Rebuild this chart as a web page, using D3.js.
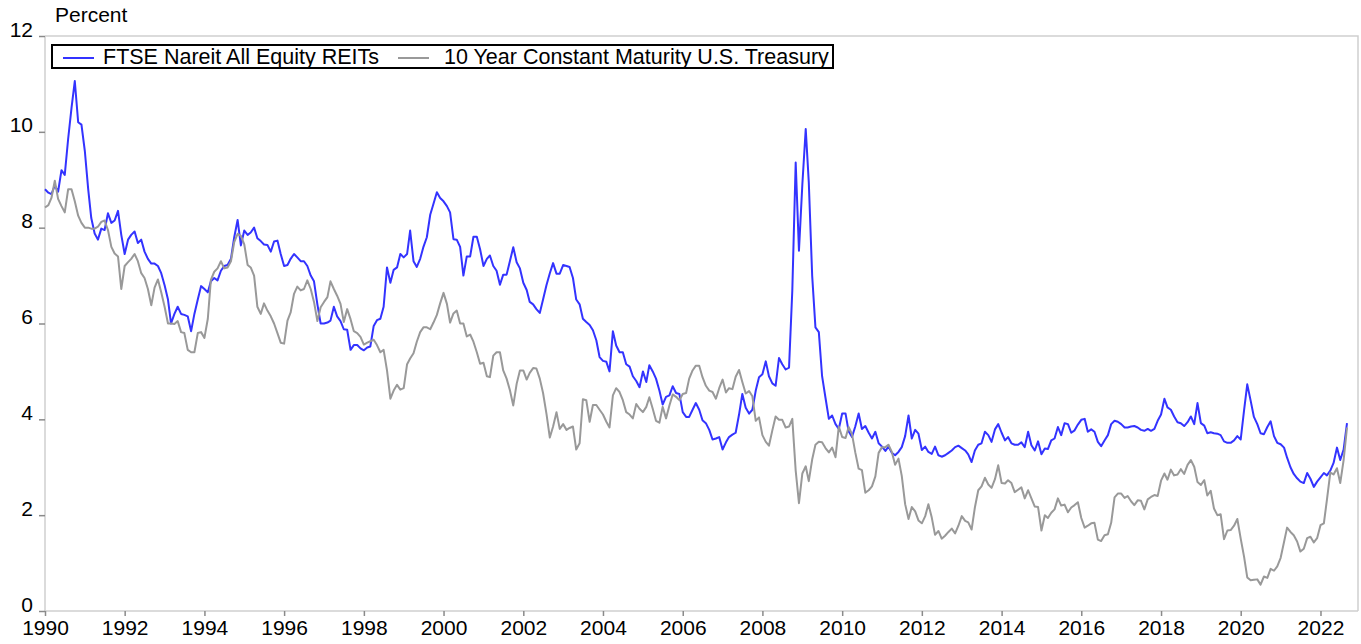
<!DOCTYPE html>
<html>
<head>
<meta charset="utf-8">
<script src="https://cdn.jsdelivr.net/npm/d3@7"></script>
<style>
  body { margin: 0; background: #fff; }
  svg text { font-family: "Liberation Sans", Arial, sans-serif; fill: #000; }
</style>
</head>
<body>
<div id="chart"></div>
<script>
// monthly, Jan 1990 - Sep 2022, percent
var reitYield = [
  8.8, 8.73, 8.7, 8.88, 8.75, 9.2, 9.1, 9.85, 10.5, 11.06, 10.2, 10.15,   // 1990
  9.6, 8.8, 8.2, 7.88, 7.75, 7.98, 7.95, 8.3, 8.1, 8.15, 8.35, 7.85,      // 1991
  7.45, 7.75, 7.85, 7.92, 7.68, 7.75, 7.5, 7.35, 7.25, 7.25, 7.2, 7.05,   // 1992
  6.8, 6.5, 6.0, 6.2, 6.35, 6.2, 6.18, 6.15, 5.84, 6.2, 6.5, 6.78,        // 1993
  6.72, 6.65, 6.88, 6.95, 6.9, 7.1, 7.2, 7.22, 7.35, 7.8, 8.16, 7.63,     // 1994
  7.94, 7.85, 7.9, 8.0, 7.78, 7.72, 7.65, 7.64, 7.5, 7.71, 7.73, 7.45,    // 1995
  7.2, 7.22, 7.35, 7.45, 7.38, 7.3, 7.3, 7.2, 7.0, 6.88, 6.4, 6.0,        // 1996
  6.0, 6.02, 6.06, 6.35, 6.15, 6.05, 5.88, 5.87, 5.45, 5.55, 5.55, 5.48,  // 1997
  5.44, 5.5, 5.52, 5.95, 6.07, 6.1, 6.35, 7.17, 6.85, 7.12, 7.17, 7.45,   // 1998
  7.38, 7.45, 7.94, 7.3, 7.18, 7.35, 7.6, 7.8, 8.27, 8.5, 8.74, 8.62,     // 1999
  8.55, 8.45, 8.32, 7.76, 7.75, 7.6, 7.0, 7.4, 7.4, 7.81, 7.81, 7.55,     // 2000
  7.2, 7.35, 7.42, 7.2, 7.1, 6.81, 7.02, 7.02, 7.31, 7.59, 7.28, 7.15,    // 2001
  6.85, 6.7, 6.45, 6.4, 6.3, 6.22, 6.5, 6.8, 7.05, 7.26, 7.04, 7.04,      // 2002
  7.22, 7.2, 7.18, 6.95, 6.5, 6.4, 6.1, 6.03, 5.97, 5.86, 5.65, 5.3,      // 2003
  5.22, 5.2, 5.0, 5.84, 5.54, 5.4, 5.4, 5.15, 5.1, 4.9, 4.8, 4.67,        // 2004
  5.0, 4.78, 5.13, 5.0, 4.85, 4.6, 4.31, 4.47, 4.5, 4.69, 4.55, 4.53,     // 2005
  4.15, 4.05, 4.05, 4.2, 4.34, 4.2, 3.98, 3.92, 3.78, 3.58, 3.6, 3.63,    // 2006
  3.37, 3.52, 3.63, 3.68, 3.72, 4.1, 4.53, 4.24, 4.12, 4.2, 4.6, 4.88,    // 2007
  4.94, 5.21, 4.9, 4.75, 4.7, 5.28, 5.15, 5.04, 5.08, 6.69, 9.36, 7.52,   // 2008
  8.9, 10.06, 8.95, 7.0, 5.92, 5.82, 4.9, 4.45, 4.01, 4.08, 3.9, 3.8,     // 2009
  4.12, 4.12, 3.75, 3.63, 3.85, 4.12, 3.8, 3.86, 3.72, 3.6, 3.74, 3.5,    // 2010
  3.43, 3.34, 3.43, 3.3, 3.25, 3.32, 3.42, 3.65, 4.08, 3.6, 3.78, 3.7,    // 2011
  3.36, 3.43, 3.32, 3.28, 3.43, 3.25, 3.22, 3.25, 3.3, 3.35, 3.42, 3.45,  // 2012
  3.4, 3.35, 3.27, 3.11, 3.35, 3.47, 3.5, 3.74, 3.67, 3.53, 3.79, 3.9,    // 2013
  3.72, 3.56, 3.63, 3.5, 3.47, 3.47, 3.52, 3.42, 3.74, 3.46, 3.35, 3.54,  // 2014
  3.27, 3.39, 3.38, 3.56, 3.6, 3.84, 3.67, 3.92, 3.9, 3.72, 3.77, 3.89,   // 2015
  3.99, 4.01, 3.74, 3.79, 3.74, 3.53, 3.44, 3.56, 3.67, 3.9, 3.97, 3.95,  // 2016
  3.9, 3.83, 3.83, 3.85, 3.86, 3.83, 3.78, 3.76, 3.8, 3.76, 3.8, 3.97,    // 2017
  4.1, 4.43, 4.25, 4.2, 4.06, 3.94, 3.92, 3.86, 3.94, 4.06, 3.9, 4.34,    // 2018
  3.92, 3.87, 3.71, 3.73, 3.71, 3.7, 3.67, 3.54, 3.51, 3.51, 3.56, 3.65,  // 2019
  3.58, 4.19, 4.73, 4.39, 4.05, 3.9, 3.71, 3.69, 3.84, 3.96, 3.65, 3.51,  // 2020
  3.48, 3.41, 3.2, 3.0, 2.86, 2.77, 2.7, 2.67, 2.88, 2.76, 2.59, 2.7,     // 2021
  2.79, 2.88, 2.83, 2.93, 3.09, 3.41, 3.15, 3.37, 3.92                    // 2022
];

var treasury10y = [
  8.42, 8.47, 8.62, 8.98, 8.6, 8.45, 8.32, 8.8, 8.8, 8.55, 8.25, 8.1,     // 1990
  8.0, 8.0, 7.98, 7.98, 8.02, 8.12, 8.15, 7.95, 7.6, 7.46, 7.4, 6.72,     // 1991
  7.2, 7.28, 7.35, 7.45, 7.3, 7.05, 6.95, 6.72, 6.38, 6.75, 6.92, 6.65,   // 1992
  6.35, 6.0, 6.0, 5.99, 6.05, 5.82, 5.8, 5.45, 5.4, 5.4, 5.8, 5.82,       // 1993
  5.7, 6.1, 6.91, 7.08, 7.15, 7.3, 7.15, 7.17, 7.3, 7.7, 7.87, 7.83,      // 1994
  7.65, 7.22, 7.17, 7.0, 6.35, 6.2, 6.42, 6.27, 6.15, 6.0, 5.8, 5.6,      // 1995
  5.58, 6.06, 6.23, 6.62, 6.77, 6.69, 6.72, 6.9, 6.72, 6.45, 6.05, 6.34,  // 1996
  6.45, 6.55, 6.88, 6.72, 6.58, 6.41, 6.03, 6.3, 6.09, 5.84, 5.8, 5.72,   // 1997
  5.56, 5.6, 5.63, 5.66, 5.55, 5.4, 5.45, 5.02, 4.43, 4.6, 4.72, 4.62,    // 1998
  4.65, 5.15, 5.27, 5.38, 5.62, 5.82, 5.92, 5.92, 5.88, 6.02, 6.18, 6.42, // 1999
  6.64, 6.41, 6.02, 6.21, 6.27, 6.0, 6.0, 5.73, 5.77, 5.62, 5.4, 5.16,    // 2000
  5.18, 4.9, 4.88, 5.33, 5.4, 5.4, 5.02, 4.85, 4.6, 4.29, 4.74, 5.02,     // 2001
  5.02, 4.83, 4.97, 5.07, 5.06, 4.85, 4.55, 4.12, 3.62, 3.85, 4.15, 3.8,  // 2002
  3.9, 3.78, 3.82, 3.85, 3.37, 3.5, 4.42, 4.4, 3.95, 4.3, 4.3, 4.2,       // 2003
  4.1, 3.95, 3.83, 4.5, 4.65, 4.57, 4.4, 4.15, 4.1, 4.02, 4.32, 4.22,     // 2004
  4.15, 4.26, 4.46, 4.22, 3.97, 3.93, 4.26, 4.02, 4.29, 4.52, 4.47, 4.4,  // 2005
  4.53, 4.55, 4.85, 5.02, 5.12, 5.12, 4.88, 4.7, 4.6, 4.57, 4.43, 4.65,   // 2006
  4.83, 4.56, 4.65, 4.63, 4.89, 5.03, 4.78, 4.54, 4.59, 4.48, 3.97, 4.04, // 2007
  3.67, 3.53, 3.45, 3.77, 4.06, 3.99, 3.99, 3.83, 3.85, 4.01, 2.93, 2.25, // 2008
  2.87, 3.02, 2.71, 3.16, 3.47, 3.53, 3.52, 3.4, 3.31, 3.41, 3.21, 3.85,  // 2009
  3.63, 3.61, 3.84, 3.69, 3.31, 2.97, 2.94, 2.47, 2.52, 2.6, 2.81, 3.3,   // 2010
  3.42, 3.42, 3.47, 3.32, 3.05, 3.18, 2.82, 2.23, 1.92, 2.17, 2.08, 1.89, // 2011
  1.83, 1.98, 2.23, 1.95, 1.59, 1.67, 1.51, 1.57, 1.65, 1.72, 1.62, 1.78, // 2012
  1.98, 1.88, 1.85, 1.7, 2.16, 2.52, 2.6, 2.78, 2.64, 2.57, 2.75, 3.04,   // 2013
  2.67, 2.66, 2.73, 2.67, 2.48, 2.53, 2.58, 2.35, 2.52, 2.35, 2.18, 2.17, // 2014
  1.68, 2.0, 1.94, 2.05, 2.12, 2.35, 2.2, 2.22, 2.06, 2.16, 2.21, 2.27,   // 2015
  1.94, 1.74, 1.78, 1.83, 1.84, 1.49, 1.46, 1.58, 1.6, 1.84, 2.37, 2.45,  // 2016
  2.45, 2.36, 2.4, 2.29, 2.21, 2.31, 2.3, 2.12, 2.33, 2.38, 2.42, 2.4,    // 2017
  2.72, 2.87, 2.74, 2.95, 2.83, 2.85, 2.96, 2.86, 3.05, 3.15, 3.01, 2.69, // 2018
  2.63, 2.73, 2.41, 2.51, 2.14, 2.0, 2.02, 1.5, 1.68, 1.69, 1.78, 1.92,   // 2019
  1.51, 1.13, 0.7, 0.64, 0.65, 0.66, 0.55, 0.72, 0.69, 0.88, 0.84, 0.93,  // 2020
  1.11, 1.44, 1.74, 1.65, 1.58, 1.45, 1.24, 1.3, 1.52, 1.55, 1.43, 1.52,  // 2021
  1.79, 1.83, 2.32, 2.89, 2.85, 2.98, 2.67, 3.15, 3.83                    // 2022
];

var seriesNames = ["FTSE Nareit All Equity REITs", "10 Year Constant Maturity U.S. Treasury"];
var yearTicks = d3.range(1990, 2023, 2);
var valueTicks = [0, 2, 4, 6, 8, 10, 12];

var fullwidth = 1361,
    fullheight = 644,
    plot = {left: 45, right: 1358, top: 36, bottom: 611};

var svg = d3.select("#chart")
    .append("svg")
    .attr("width", fullwidth)
    .attr("height", fullheight);

var months = reitYield.map(function(d, i) { return new Date(1990, i, 1); });

var xScale = d3.scaleTime()
    .domain([months[0], months[months.length - 1]])
    .range([45, 1347]);

var yScale = d3.scaleLinear()
    .domain([0, 12])
    .range([plot.bottom, plot.top]);

// frame (top and right edges)
svg.append("path")
    .attr("d", "M" + plot.left + "," + plot.top + "H" + plot.right + "V" + plot.bottom)
    .attr("fill", "none")
    .attr("stroke", "#cfcfcf")
    .attr("stroke-width", 1.5);

var xAxis = d3.axisBottom(xScale)
    .tickValues(yearTicks.map(function(y) { return new Date(y, 0, 1); }))
    .tickFormat(d3.timeFormat("%Y"))
    .tickSizeOuter(0)
    .tickSize(5)
    .tickPadding(6);

var yAxis = d3.axisLeft(yScale)
    .tickValues(valueTicks)
    .tickSizeOuter(0)
    .tickSize(6)
    .tickPadding(5);

var xAxisEle = svg.append("g")
    .classed("x axis", true)
    .attr("transform", "translate(0," + plot.bottom + ")")
    .call(xAxis);

var yAxisEle = svg.append("g")
    .classed("y axis", true)
    .attr("transform", "translate(" + plot.left + ",0)")
    .call(yAxis);

[xAxisEle, yAxisEle].forEach(function(ax) {
    ax.select(".domain").attr("stroke", "#cfcfcf").attr("stroke-width", 1.5);
    ax.selectAll(".tick line").attr("stroke", "#8a8a8a").attr("stroke-width", 1.5);
    ax.selectAll(".tick text")
        .style("font-family", '"Liberation Sans", Arial, sans-serif')
        .style("font-size", "21px")
        .attr("fill", "#000");
});
xAxisEle.select(".domain").attr("d", "M" + plot.left + ",0H" + plot.right);
yAxisEle.select(".domain").attr("d", "M0," + plot.bottom + "V" + plot.top);
xAxisEle.selectAll(".tick text").attr("dy", "0.71em").attr("y", 9);
yAxisEle.selectAll(".tick text").attr("dy", 0).attr("x", -12).attr("y", 0);

svg.append("text")
    .attr("x", 55)
    .attr("y", 22)
    .style("font-size", "21px")
    .text("Percent");

var line = d3.line()
    .x(function(d, i) { return xScale(months[i]); })
    .y(function(d) { return yScale(d); });

var lineHolder = svg.append("g").classed("lines", true);

lineHolder.append("path")
    .datum(reitYield)
    .attr("fill", "none")
    .attr("stroke", "#3333ff")
    .attr("stroke-width", 2)
    .attr("stroke-linejoin", "round")
    .attr("d", line);

lineHolder.append("path")
    .datum(treasury10y)
    .attr("fill", "none")
    .attr("stroke", "#999999")
    .attr("stroke-width", 2)
    .attr("stroke-linejoin", "round")
    .attr("d", line);

// legend
var legend = svg.append("g").classed("legend", true);
legend.append("rect")
    .attr("x", 52).attr("y", 45)
    .attr("width", 781).attr("height", 23)
    .attr("fill", "#fff")
    .attr("stroke", "#000")
    .attr("stroke-width", 2);

var legendItems = [
    {name: seriesNames[0], color: "#3333ff", lx: 63, tx: 103},
    {name: seriesNames[1], color: "#999999", lx: 398, tx: 444}
];
legendItems.forEach(function(it) {
    legend.append("line")
        .attr("x1", it.lx).attr("x2", it.lx + 31)
        .attr("y1", 58).attr("y2", 58)
        .attr("stroke", it.color)
        .attr("stroke-width", 2);
    legend.append("text")
        .attr("x", it.tx)
        .attr("y", 64)
        .style("font-size", "21.5px")
        .text(it.name);
});
</script>
</body>
</html>
